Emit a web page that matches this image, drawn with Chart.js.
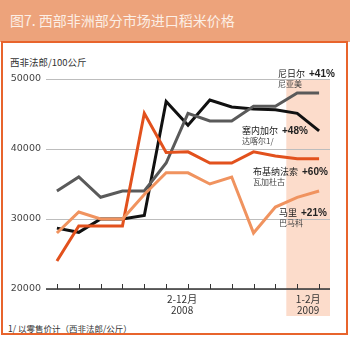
<!DOCTYPE html>
<html>
  <head>
    <meta charset="utf-8">
    <title>图7. 西部非洲部分市场进口稻米价格</title>
    <style>
      html, body{ margin: 0; padding: 0; background: #fff; font-family: "Noto Sans CJK SC", "DejaVu Sans", sans-serif; }
      .page{ position: relative; width: 350px; height: 337px; overflow: hidden; }
      .title{ position: absolute; left: 0; top: 0; width: 350px; height: 42px; background-color: #eda37b; }
      .title span{ position: absolute; left: 10px; top: 11px; font-size: 14px; line-height: 18px; color: #fcefe6; }
      .frame{ position: absolute; left: 1px; top: 41px; width: 343px; height: 290px; border: 2px solid #e8642c; }
      .unit{ position: absolute; left: 10px; top: 55px; font-size: 9.5px; color: #333; }
      .note{ position: absolute; left: 8px; top: 322px; font-size: 8.5px; color: #333; }
      canvas{ position: absolute; left: 0; top: 0; }
    </style>
    <script src="https://cdn.jsdelivr.net/npm/chart.js"></script>
  </head>
  <body>
    <div class="page">
      <div class="title"><span>图7. 西部非洲部分市场进口稻米价格</span></div>
      <div class="frame"></div>
      <div class="unit">西非法郎/100公斤</div>
      <div class="note">1/ 以零售价计（西非法郎/公斤）</div>
      <canvas id="myChart" width="350" height="337"></canvas>
    </div>

    <script>
      // months Jan 2008 .. Jan 2009 (13 points)
      const months = ['2008-01','2008-02','2008-03','2008-04','2008-05','2008-06','2008-07','2008-08','2008-09','2008-10','2008-11','2008-12','2009-01'];
      const periodLabels = [['2-12月', '2008'], ['1-2月', '2009']];

      const niamey = [34000, 36000, 33100, 34000, 34000, 38000, 45100, 44000, 44000, 46100, 46100, 48000, 48000];
      const dakar = [28700, 28100, 30000, 30000, 30500, 46800, 43400, 47000, 46000, 45700, 45600, 45100, 42600];
      const ouagadougou = [24000, 29000, 29000, 29000, 45100, 39500, 39600, 38000, 38000, 39600, 39000, 38600, 38600];
      const bamako = [28000, 31000, 30000, 30000, 33500, 36600, 36600, 35000, 36000, 28000, 31700, 33100, 34000];

      const yTicks = [20000, 30000, 40000, 50000];

      const countryNames = ['尼日尔', '塞内加尔', '布基纳法索', '马里'];
      const cityNames = ['尼亚美', '达喀尔1/', '瓦加杜古', '巴马科'];
      const changes = ['+41%', '+48%', '+60%', '+21%'];

      // shaded 2009 band behind the grid
      const bandPlugin = {
        id: 'band',
        beforeDraw(chart) {
          const { ctx, chartArea, scales } = chart;
          const x = scales.x;
          const step = x.getPixelForValue(1) - x.getPixelForValue(0);
          const left = x.getPixelForValue(11) - step / 2;
          ctx.save();
          ctx.fillStyle = '#fcdccb';
          ctx.fillRect(left, chartArea.top, chartArea.right - left, 316 - chartArea.top);
          ctx.restore();
        }
      };

      // bottom axis, upward tick marks, period labels and line annotations
      const axisPlugin = {
        id: 'axisDeco',
        afterDatasetsDraw(chart) {
          const { ctx, chartArea, scales } = chart;
          const x = scales.x;
          const yb = chartArea.bottom;
          ctx.save();
          ctx.strokeStyle = '#333';
          ctx.lineWidth = 1.5;
          ctx.beginPath();
          ctx.moveTo(chartArea.left, yb);
          ctx.lineTo(chartArea.right, yb);
          ctx.stroke();
          ctx.lineWidth = 1;
          months.forEach((m, i) => {
            const px = Math.round(x.getPixelForValue(i)) + 0.5;
            ctx.beginPath();
            ctx.moveTo(px, yb);
            ctx.lineTo(px, yb - 5);
            ctx.stroke();
          });

          ctx.fillStyle = '#333';
          ctx.textAlign = 'center';
          ctx.textBaseline = 'alphabetic';
          ctx.font = '10px "Noto Sans CJK SC", "DejaVu Sans", sans-serif';
          const centers = [
            (x.getPixelForValue(5) + x.getPixelForValue(6)) / 2 + 5,
            (x.getPixelForValue(11) + x.getPixelForValue(12)) / 2
          ];
          periodLabels.forEach((lab, i) => {
            ctx.fillText(lab[0], centers[i], 303);
            ctx.fillText(lab[1], centers[i], 314);
          });

          // annotations: name, then change figure right after it
          const spots = [
            { l: 278, y: 77 },
            { l: 242, y: 134 },
            { l: 253, y: 175 },
            { l: 279, y: 216 }
          ];
          ctx.textAlign = 'left';
          spots.forEach((s, i) => {
            ctx.fillStyle = '#222';
            ctx.font = '9px "Noto Sans CJK SC", sans-serif';
            ctx.fillText(countryNames[i], s.l, s.y);
            const w = ctx.measureText(countryNames[i]).width;
            ctx.font = 'bold 10px "Liberation Sans", sans-serif';
            ctx.fillText(changes[i], s.l + w + 4, s.y);
            ctx.fillStyle = '#444';
            ctx.font = '8px "Noto Sans CJK SC", sans-serif';
            ctx.fillText(cityNames[i], s.l, s.y + 10);
          });
          ctx.restore();
        }
      };

      const ctx = document.getElementById('myChart').getContext('2d');
      const myChart = new Chart(ctx, {
        type: 'line',
        data: {
          labels: months,
          datasets: [
            { label: '马里', data: bamako, borderColor: '#f0935f' },
            { label: '布基纳法索', data: ouagadougou, borderColor: '#e2511d' },
            { label: '尼日尔', data: niamey, borderColor: '#5a5a5a' },
            { label: '塞内加尔', data: dakar, borderColor: '#111111' }
          ]
        },
        options: {
          responsive: false,
          animation: false,
          devicePixelRatio: 1,
          layout: { padding: { top: 79, right: 20, bottom: 48, left: 0 } },
          elements: {
            line: { borderWidth: 3, tension: 0, borderJoinStyle: 'miter', fill: false },
            point: { radius: 0 }
          },
          scales: {
            x: { display: false, offset: true },
            y: {
              min: 20000,
              max: 50000,
              afterBuildTicks: (axis) => { axis.ticks = yTicks.map(v => ({ value: v })); },
              afterFit: (axis) => { axis.width = 46; },
              border: { display: false },
              grid: { color: '#bdbdbd', lineWidth: 1, drawTicks: false },
              ticks: {
                padding: 5,
                color: '#444',
                font: { family: '"DejaVu Sans", sans-serif', size: 9.5 },
                callback: (v) => String(v)
              }
            }
          },
          plugins: {
            legend: { display: false },
            tooltip: { enabled: false },
            title: { display: false }
          }
        },
        plugins: [bandPlugin, axisPlugin]
      });
    </script>
  </body>
</html>
